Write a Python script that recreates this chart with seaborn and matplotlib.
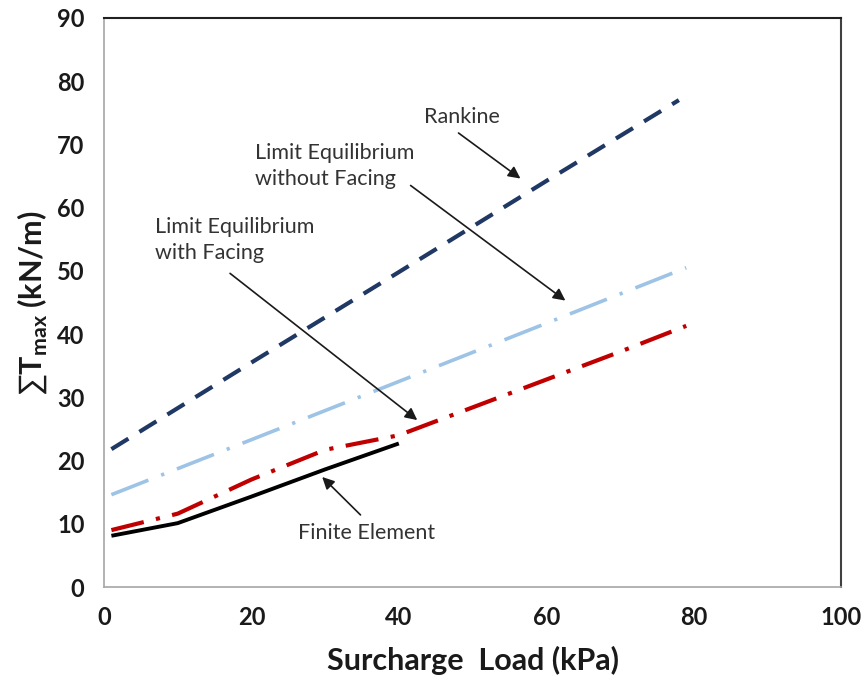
import matplotlib
matplotlib.use("Agg")
import matplotlib.pyplot as plt
import seaborn as sns
import pandas as pd

# Surcharge load (kPa) and summed maximum reinforcement load (kN/m)
rankine_x = [1, 20, 40, 60, 78]
rankine_y = [21.8, 35.5, 49.8, 64.2, 77.0]

le_without_x = [1, 20, 40, 60, 79]
le_without_y = [14.6, 23.3, 32.5, 41.7, 50.5]

le_with_x = [1, 10, 20, 30, 40, 50, 60, 70, 79]
le_with_y = [9.0, 11.6, 17.0, 21.7, 24.0, 28.4, 32.8, 37.2, 41.3]

fe_x = [1, 10, 20, 30, 40]
fe_y = [8.1, 10.1, 14.3, 18.6, 22.7]

x_ticks = [0, 20, 40, 60, 80, 100]
y_ticks = [0, 10, 20, 30, 40, 50, 60, 70, 80, 90]

sns.set_style("white")
plt.rcParams["font.family"] = ["Lato", "DejaVu Sans"]
plt.rcParams["mathtext.fontset"] = "custom"
plt.rcParams["mathtext.rm"] = "Lato"
plt.rcParams["mathtext.bf"] = "Lato:bold"

fig = plt.figure(figsize=(8.64, 6.84), dpi=100)
ax = fig.add_axes([0.1204, 0.1418, 0.853, 0.832])

series = [
    (rankine_x, rankine_y, "#1F3864", 3.0, (4.8, 3.1)),
    (le_without_x, le_without_y, "#9DC3E6", 2.6, (11, 3.8, 0.9, 3.8)),
    (le_with_x, le_with_y, "#C00000", 3.0, (8, 3, 1, 3)),
    (fe_x, fe_y, "#000000", 2.8, None),
]

for xs, ys, color, lw, dash in series:
    df = pd.DataFrame({"load": xs, "tmax": ys})
    sns.lineplot(data=df, x="load", y="tmax", color=color, lw=lw, ax=ax,
                 solid_capstyle="butt", dash_capstyle="butt")
    if dash is not None:
        ax.lines[-1].set_dashes(dash)

ax.set_xlim(0, 100)
ax.set_ylim(0, 90)
ax.set_xticks(x_ticks)
ax.set_yticks(y_ticks)
ax.tick_params(axis="both", which="major", direction="out", length=5,
               width=1, color="#A6A6A6", labelsize=17, pad=9)
for lab in ax.get_xticklabels() + ax.get_yticklabels():
    lab.set_fontweight("bold")
    lab.set_color("#1a1a1a")

for side in ["left", "bottom"]:
    ax.spines[side].set_color("#A6A6A6")
    ax.spines[side].set_linewidth(1.2)
ax.spines["top"].set_color("#202020")
ax.spines["top"].set_linewidth(1.5)
ax.spines["right"].set_color("#404040")
ax.spines["right"].set_linewidth(1.5)

ax.set_xlabel("Surcharge  Load (kPa)", fontsize=22, fontweight="bold",
              color="#1a1a1a", labelpad=12)
ax.set_ylabel(r"$\sum\mathbf{T}_{\mathbf{max}}$ (kN/m)", fontsize=22,
              fontweight="bold", color="#1a1a1a", labelpad=6)

arrow = dict(arrowstyle="-|>", color="#1a1a1a", lw=1.2, mutation_scale=18,
             shrinkA=0, shrinkB=0)
txt = dict(fontsize=15.5, color="#333333")

ax.annotate("", xy=(56.5, 64.6), xytext=(48.1, 71.8), arrowprops=arrow)
ax.text(48.6, 74.3, "Rankine", ha="center", va="center", **txt)

ax.annotate("", xy=(62.6, 45.3), xytext=(41.6, 63.5), arrowprops=arrow)
ax.text(20.5, 66.6, "Limit Equilibrium\nwithout Facing", ha="left",
        va="center", linespacing=1.4, **txt)

ax.annotate("", xy=(42.5, 26.4), xytext=(17.1, 49.6), arrowprops=arrow)
ax.text(6.9, 54.9, "Limit Equilibrium\nwith Facing", ha="left",
        va="center", linespacing=1.4, **txt)

ax.annotate("", xy=(29.6, 17.4), xytext=(34.8, 11.4), arrowprops=arrow)
ax.text(35.6, 8.6, "Finite Element", ha="center", va="center", **txt)

fig.savefig("out.png", dpi=100)
